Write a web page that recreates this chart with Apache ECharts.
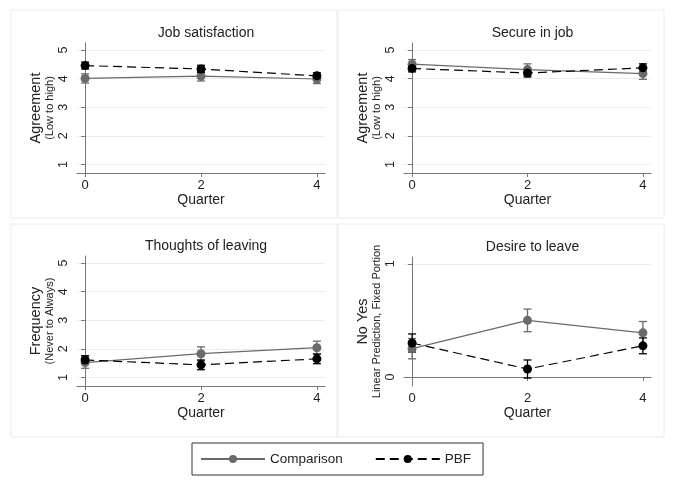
<!DOCTYPE html>
<html>
<head>
<meta charset="utf-8">
<script src="https://cdn.jsdelivr.net/npm/echarts@6/dist/echarts.min.js"></script>
<style>
html,body{margin:0;padding:0;background:#fff;}
#chart{width:676px;height:492px;}
</style>
</head>
<body>
<div id="chart"></div>
<script>
// ---- Data ----
const quarters = [0, 2, 4];
const xTicks = [0, 2, 4];
const panelTitles = ['Job satisfaction', 'Secure in job', 'Thoughts of leaving', 'Desire to leave'];
const yNames = ['Agreement', 'Agreement', 'Frequency', 'No Yes'];
const ySubNames = ['(Low to high)', '(Low to high)', '(Never to Always)', 'Linear Prediction, Fixed Portion'];
const yTicksLikert = [1, 2, 3, 4, 5];
const yTicksBinary = [0, 1];

const jobSatComparison = [4.01, 4.09, 3.99];
const jobSatComparisonErr = [0.16, 0.17, 0.16];
const jobSatPBF = [4.46, 4.34, 4.10];
const jobSatPBFErr = [0.12, 0.13, 0.11];

const secureComparison = [4.51, 4.32, 4.18];
const secureComparisonErr = [0.16, 0.20, 0.20];
const securePBF = [4.36, 4.20, 4.38];
const securePBFErr = [0.12, 0.14, 0.14];

const thoughtsComparison = [1.52, 1.83, 2.04];
const thoughtsComparisonErr = [0.20, 0.24, 0.23];
const thoughtsPBF = [1.61, 1.44, 1.65];
const thoughtsPBFErr = [0.15, 0.17, 0.17];

const desireComparison = [0.25, 0.50, 0.39];
const desireComparisonErr = [0.09, 0.10, 0.10];
const desirePBF = [0.30, 0.07, 0.275];
const desirePBFErr = [0.08, 0.08, 0.07];

const comparisonMeans = [jobSatComparison, secureComparison, thoughtsComparison, desireComparison];
const comparisonErrs = [jobSatComparisonErr, secureComparisonErr, thoughtsComparisonErr, desireComparisonErr];
const pbfMeans = [jobSatPBF, securePBF, thoughtsPBF, desirePBF];
const pbfErrs = [jobSatPBFErr, securePBFErr, thoughtsPBFErr, desirePBFErr];

// ---- Layout / style ----
const FONT = '"Liberation Sans", Arial, Helvetica, sans-serif';
const grayC = '#6a6a6a';
const blackC = '#000000';
const grids = [
  {left: 77, top: 43, width: 248, height: 130},
  {left: 404, top: 43, width: 247, height: 130},
  {left: 77, top: 256, width: 248, height: 130},
  {left: 404, top: 257, width: 247, height: 129}
];
const yRanges = [[0.7, 5.25], [0.7, 5.25], [0.7, 5.25], [-0.08, 1.06]];
const panelBoxes = [
  {x: 11, y: 10, w: 326, h: 208},
  {x: 338, y: 10, w: 326, h: 208},
  {x: 11, y: 224, w: 326, h: 213},
  {x: 338, y: 224, w: 326, h: 213}
];

const chart = echarts.init(document.getElementById('chart'), null, {renderer: 'canvas'});

function errRender(color) {
  return function (params, api) {
    const x = api.value(0), lo = api.value(1), hi = api.value(2);
    const a = api.coord([x, lo]), b = api.coord([x, hi]);
    const w = 4;
    const st = {stroke: color, lineWidth: 1.3};
    return {
      type: 'group',
      children: [
        {type: 'line', shape: {x1: a[0], y1: a[1], x2: b[0], y2: b[1]}, style: st},
        {type: 'line', shape: {x1: a[0] - w, y1: a[1], x2: a[0] + w, y2: a[1]}, style: st},
        {type: 'line', shape: {x1: b[0] - w, y1: b[1], x2: b[0] + w, y2: b[1]}, style: st}
      ]
    };
  };
}

const xAxes = [], yAxes = [], series = [], titles = [];
for (let i = 0; i < 4; i++) {
  const yt = i === 3 ? yTicksBinary : yTicksLikert;
  xAxes.push({
    type: 'value', gridIndex: i, min: -0.14, max: 4.14,
    name: 'Quarter', nameLocation: 'middle', nameGap: 20,
    nameTextStyle: {fontFamily: FONT, fontSize: 14, color: '#222'},
    axisLine: {show: true, lineStyle: {color: '#777', width: 1}},
    axisTick: {show: true, customValues: xTicks, length: 4, lineStyle: {color: '#777'}},
    axisLabel: {customValues: xTicks, margin: 6, fontFamily: FONT, fontSize: 13, color: '#222'},
    splitLine: {show: false}
  });
  yAxes.push({
    type: 'value', gridIndex: i, min: yRanges[i][0], max: yRanges[i][1],
    name: '{a|' + yNames[i] + '}\n{b|' + ySubNames[i] + '}',
    nameLocation: 'middle', nameRotate: 90, nameGap: 21,
    nameTextStyle: {
      fontFamily: FONT, color: '#222', align: 'center',
      rich: {
        a: {fontFamily: FONT, fontSize: 14.5, color: '#222', lineHeight: 15},
        b: {fontFamily: FONT, fontSize: 11, color: '#222', lineHeight: 13}
      }
    },
    axisLine: {show: true, lineStyle: {color: '#777', width: 1}},
    axisTick: {show: true, customValues: yt, length: 4, lineStyle: {color: '#777'}},
    axisLabel: {customValues: yt, rotate: 90, margin: 7, fontFamily: FONT, fontSize: 12.5, color: '#222'},
    splitLine: {show: true, lineStyle: {color: '#e6eef0', width: 1}}
  });
  titles.push({
    text: panelTitles[i],
    left: grids[i].left + grids[i].width / 2, top: grids[i].top - 21.5,
    textAlign: 'center',
    textStyle: {fontFamily: FONT, fontSize: 14, fontWeight: 'normal', color: '#222'}
  });
  series.push({
    type: 'custom', xAxisIndex: i, yAxisIndex: i, z: 3,
    renderItem: errRender(grayC), encode: {x: 0, y: [1, 2]},
    data: quarters.map((q, k) => [q, comparisonMeans[i][k] - comparisonErrs[i][k], comparisonMeans[i][k] + comparisonErrs[i][k]])
  });
  series.push({
    type: 'custom', xAxisIndex: i, yAxisIndex: i, z: 4,
    renderItem: errRender(blackC), encode: {x: 0, y: [1, 2]},
    data: quarters.map((q, k) => [q, pbfMeans[i][k] - pbfErrs[i][k], pbfMeans[i][k] + pbfErrs[i][k]])
  });
  series.push({
    name: 'Comparison', type: 'line', xAxisIndex: i, yAxisIndex: i, z: 5,
    symbol: 'circle', symbolSize: 9,
    itemStyle: {color: grayC},
    lineStyle: {color: grayC, width: 1.2, type: 'solid'},
    data: quarters.map((q, k) => [q, comparisonMeans[i][k]])
  });
  series.push({
    name: 'PBF', type: 'line', xAxisIndex: i, yAxisIndex: i, z: 6,
    symbol: 'circle', symbolSize: 9,
    itemStyle: {color: blackC},
    lineStyle: {color: blackC, width: 1.2, type: [9, 5]},
    data: quarters.map((q, k) => [q, pbfMeans[i][k]])
  });
}

const option = {
  animation: false,
  backgroundColor: '#ffffff',
  title: titles,
  grid: grids,
  xAxis: xAxes,
  yAxis: yAxes,
  legend: {
    data: ['Comparison', 'PBF'],
    left: 192, top: 443,
    padding: [9, 12, 9, 8],
    borderColor: '#333', borderWidth: 1,
    itemWidth: 64, itemHeight: 10, itemGap: 32,
    textStyle: {fontFamily: FONT, fontSize: 13.5, color: '#222'}
  },
  graphic: panelBoxes.map(b => ({
    type: 'rect', silent: true, z: -1,
    shape: {x: b.x, y: b.y, width: b.w, height: b.h},
    style: {fill: null, stroke: '#ececec', lineWidth: 1}
  })),
  series: series
};
chart.setOption(option);
</script>
</body>
</html>
